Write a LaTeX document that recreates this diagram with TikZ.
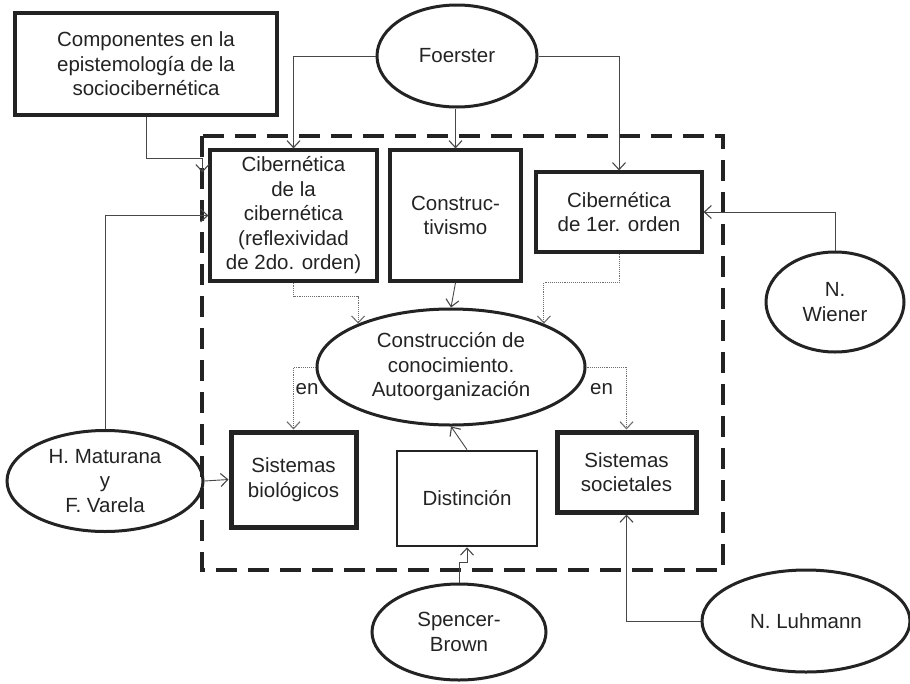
\documentclass[tikz,border=0pt]{standalone}
\usepackage{fontspec}
\setmainfont{Liberation Sans}
\usetikzlibrary{shapes.geometric,arrows.meta}
\definecolor{ink}{HTML}{232323}
\definecolor{wire}{HTML}{474747}
\definecolor{dotwire}{HTML}{6E6E6E}
\begin{document}
\begin{tikzpicture}[x=1pt,y=-1pt,
  every node/.style={font=\fontsize{20.5}{24.5}\selectfont, text=ink, align=center, inner sep=0pt},
  box/.style={draw=ink, line width=3.2pt, rectangle},
  heavybox/.style={draw=ink, line width=5pt, rectangle},
  oval/.style={draw=ink, line width=3pt, ellipse},
  arr/.style={draw=wire, line width=0.9pt, -{Straight Barb[length=7pt,width=13pt,line width=1.1pt]}},
  dotarr/.style={draw=dotwire, line width=0.9pt, densely dotted, -{Straight Barb[length=7pt,width=13pt,line width=1.1pt,sep=0pt]}},
  frame/.style={draw=ink, line width=4pt, dash pattern=on 21pt off 11pt}
]
\useasboundingbox (0,0) rectangle (910,683);

% enclosing dashed frame
\draw[frame] (202,136) rectangle (723,570);

% boxes
\node[box, minimum width=262, minimum height=102] (comp) at (146,64)
  {Componentes en la\\epistemología de la\\sociocibernética};
\node[box, minimum width=167, minimum height=131] (cib2) at (293.5,215.5)
  {Cibernética\\de la\\cibernética\\(reflexividad\\de 2do. orden)};
\node[box, minimum width=131, minimum height=131] (constr) at (455.5,215.5)
  {Construc-\\tivismo};
\node[box, minimum width=166, minimum height=80] (cib1) at (619,212)
  {Cibernética\\de 1er. orden};
\node[heavybox, minimum width=125, minimum height=95] (bio) at (293.5,479.5)
  {Sistemas\\biológicos};
\node[box, line width=2.7pt, minimum width=140, minimum height=95] (dist) at (467,498.5)
  {Distinción};
\node[heavybox, minimum width=139, minimum height=80] (soc) at (626.5,472)
  {Sistemas\\societales};

% ellipses
\node[oval, minimum width=160, minimum height=102] (foer) at (457,56) {Foerster};
\node[oval, minimum width=138, minimum height=100] (wien) at (835,302) {N.\\Wiener};
\node[oval, minimum width=268, minimum height=116] (know) at (451,367)
  {Construcción de\\conocimiento.\\Autoorganización};
\node[oval, minimum width=196, minimum height=101] (mat) at (105,481)
  {H. Maturana\\y\\F. Varela};
\node[oval, minimum width=174, minimum height=96] (sb) at (459,632) {Spencer-\\Brown};
\node[oval, minimum width=208, minimum height=102] (luh) at (806,621) {N. Luhmann};

% labels
\node[anchor=base] (enl) at (307,394) {en};
\node[anchor=base] (enr) at (601.5,394) {en};

% solid connectors
\draw[arr] (comp.south) |- ([xshift=-6pt,yshift=-10pt]cib2.north west)
  -- ([xshift=-6pt,yshift=-24pt]cib2.north west);
\draw[arr] (foer.west) -| (cib2.north);
\draw[arr] (foer.south -| constr.north) -- (constr.north);
\draw[arr] (foer.east) -| (cib1.north);
\draw[arr] (wien.north) |- (cib1.east);
\draw[arr] (mat.north) |- (cib2.west);
\draw[arr] (mat.east) -- (bio.west);
\draw[arr] (constr.south) -- (know.north);
\draw[arr] (dist.north) -- (know.south);
\draw[arr] (sb.north) -- ++(0,-20) -| (dist.south);
\draw[arr] (luh.west) -| (soc.south);

% dotted connectors
\draw[dotarr] (cib2.south) -- ++(0,14) -| (know.155);
\draw[dotarr] (cib1.south) -- ++(0,29) -| (know.25);
\draw[dotarr] (know.west) -| (bio.north);
\draw[dotarr] (know.east) -| (soc.north);
\end{tikzpicture}
\end{document}
